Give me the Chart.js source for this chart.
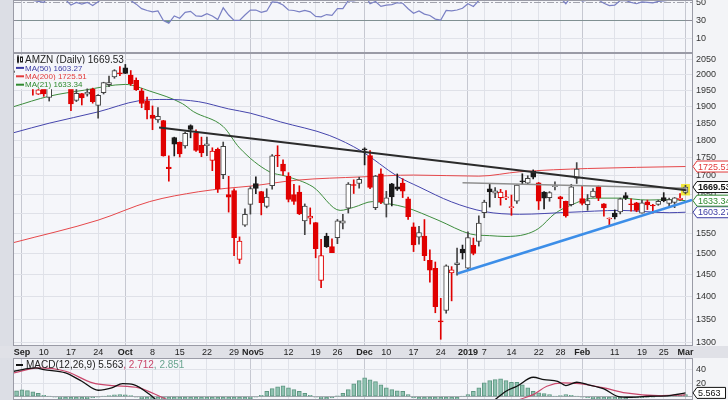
<!DOCTYPE html>
<html lang="en">
<head>
  <meta charset="UTF-8">
  <title>AMZN Daily</title>
  <script src="https://cdn.jsdelivr.net/npm/chart.js"></script>
  <style>
    body { margin: 0; background: #dcdee5; }
    #wrap { position: relative; width: 728px; height: 400px; overflow: hidden; }
    #wrap canvas { position: absolute; left: 0; }
  </style>
</head>
<body>
  <div id="wrap">
    <canvas id="rsi" width="728" height="53" style="top:0"></canvas>
    <canvas id="price" width="728" height="305" style="top:53px"></canvas>
    <canvas id="macd" width="728" height="42" style="top:358px"></canvas>
  </div>
  <script>
    const FONT = '"Liberation Sans", Arial, sans-serif';

    // date axis: trading-day index (0 = Sep 4 2018)
    const tickIdx = [0, 4, 9, 14, 19, 24, 29, 34, 39, 42, 44, 49, 54, 58, 63, 67, 72, 77, 82, 85, 90, 95, 99, 103, 109, 114, 118, 122];
    const tickLabels = ['Sep', '10', '17', '24', 'Oct', '8', '15', '22', '29', 'Nov', '5', '12', '19', '26', 'Dec', '10', '17', '24', '2019', '7', '14', '22', '28', 'Feb', '11', '19', '25', 'Mar'];
    const monthLabels = ['Sep', 'Oct', 'Nov', 'Dec', '2019', 'Feb', 'Mar'];

    // daily OHLC, Aug 31 2018 .. Mar 1 2019
    const open = [
      2007.0, 2026.5, 2038.1, 2006.5, 1938.7, 1971.0, 1928.3, 1994.0, 2000.0, 1992.9,
      1954.7, 1918.7, 1940.5, 1938.6, 1954.2, 1903.8, 1942.9, 1968.5, 1993.2, 2004.4,
      2022.0, 1999.0, 1981.7, 1949.0, 1918.0, 1874.0, 1860.0, 1857.9, 1724.0, 1808.0,
      1795.0, 1783.5, 1842.8, 1821.5, 1785.0, 1784.0, 1742.2, 1773.7, 1703.3, 1649.6,
      1660.0, 1486.2, 1570.0, 1623.5, 1678.6, 1657.6, 1618.4, 1673.0, 1755.0, 1732.5,
      1698.2, 1649.3, 1656.3, 1581.0, 1587.8, 1577.0, 1437.0, 1543.0, 1517.0, 1539.0,
      1575.0, 1613.9, 1675.0, 1679.5, 1774.0, 1756.0, 1614.9, 1705.1, 1623.8, 1678.0,
      1670.1, 1680.0, 1638.0, 1566.0, 1540.0, 1543.1, 1484.0, 1465.0, 1346.0, 1368.9,
      1454.2, 1473.4, 1510.8, 1465.2, 1520.0, 1530.0, 1602.3, 1664.7, 1653.0, 1641.0,
      1640.6, 1615.0, 1632.0, 1684.2, 1680.0, 1712.0, 1681.0, 1656.0, 1641.1, 1670.5,
      1643.6, 1631.3, 1623.0, 1692.9, 1638.9, 1623.0, 1643.3, 1670.8, 1625.0, 1586.0,
      1601.0, 1604.0, 1647.0, 1624.5, 1627.9, 1601.0, 1630.0, 1619.8, 1623.5, 1641.5,
      1626.0, 1628.8, 1635.9, 1655.0
    ];
    const high = [
      2022.4, 2050.5, 2040.4, 2007.5, 1975.2, 1973.0, 1988.9, 1997.6, 2008.8, 1993.7,
      1956.8, 1958.2, 1940.8, 1955.0, 1957.3, 1936.9, 1975.9, 1995.3, 2016.2, 2026.5,
      2033.2, 2013.4, 1989.7, 1956.0, 1929.1, 1902.0, 1896.7, 1858.6, 1755.4, 1808.9,
      1795.0, 1823.9, 1845.2, 1830.2, 1809.1, 1809.5, 1778.3, 1777.7, 1794.8, 1698.5,
      1665.0, 1541.0, 1612.0, 1670.5, 1697.4, 1658.1, 1665.0, 1759.2, 1784.0, 1743.9,
      1708.6, 1677.1, 1673.0, 1624.8, 1614.5, 1577.0, 1534.8, 1550.0, 1536.2, 1584.8,
      1597.7, 1681.5, 1689.0, 1696.0, 1778.3, 1770.3, 1701.0, 1718.9, 1658.0, 1679.5,
      1705.0, 1692.1, 1642.6, 1576.1, 1567.6, 1584.5, 1509.5, 1480.0, 1396.0, 1473.2,
      1469.0, 1513.5, 1520.8, 1553.4, 1538.0, 1594.0, 1634.6, 1676.6, 1667.8, 1663.3,
      1660.3, 1648.2, 1675.2, 1705.5, 1700.2, 1716.2, 1681.9, 1657.4, 1657.3, 1683.5,
      1645.0, 1632.4, 1676.9, 1736.4, 1673.1, 1649.6, 1665.3, 1672.3, 1625.5, 1588.6,
      1609.3, 1640.0, 1654.6, 1637.9, 1628.9, 1634.0, 1634.9, 1623.6, 1634.9, 1654.6,
      1640.0, 1641.8, 1651.8, 1674.3
    ];
    const low = [
      2004.7, 2013.0, 1989.9, 1935.6, 1937.4, 1931.5, 1917.0, 1968.1, 1983.0, 1959.2,
      1887.4, 1915.4, 1904.9, 1932.3, 1910.5, 1865.0, 1938.9, 1961.5, 1988.6, 1996.5,
      2003.6, 1965.8, 1949.8, 1896.6, 1862.8, 1830.7, 1852.3, 1754.4, 1685.1, 1755.0,
      1752.0, 1777.4, 1807.0, 1767.9, 1753.0, 1756.0, 1714.0, 1655.0, 1692.0, 1603.6,
      1495.0, 1476.4, 1567.3, 1598.4, 1651.8, 1596.4, 1614.6, 1664.1, 1725.1, 1701.9,
      1630.0, 1623.4, 1597.1, 1546.5, 1573.1, 1490.0, 1420.0, 1515.0, 1502.5, 1524.2,
      1561.0, 1601.2, 1652.3, 1666.5, 1730.0, 1665.0, 1609.9, 1625.7, 1590.9, 1619.6,
      1660.3, 1641.5, 1585.0, 1505.0, 1523.0, 1483.2, 1432.7, 1364.0, 1307.0, 1363.0,
      1390.3, 1449.0, 1487.0, 1460.9, 1497.1, 1518.3, 1589.2, 1616.6, 1641.4, 1621.6,
      1636.2, 1595.2, 1626.0, 1675.9, 1677.5, 1691.5, 1610.2, 1612.0, 1631.8, 1661.6,
      1614.1, 1590.7, 1619.4, 1679.1, 1622.5, 1608.2, 1642.5, 1633.3, 1592.9, 1566.8,
      1586.0, 1598.9, 1636.1, 1606.1, 1604.5, 1600.6, 1610.1, 1600.9, 1621.2, 1630.4,
      1616.1, 1615.1, 1633.8, 1651.0
    ];
    const close = [
      2012.7, 2039.5, 1994.8, 1958.3, 1952.1, 1939.0, 1987.2, 1990.0, 1989.9, 1970.2,
      1908.0, 1941.1, 1926.4, 1944.3, 1915.0, 1934.4, 1974.6, 1974.9, 2013.0, 2003.0,
      2004.4, 1971.3, 1952.8, 1909.4, 1889.7, 1864.4, 1870.3, 1755.3, 1719.4, 1788.6,
      1761.0, 1820.0, 1831.7, 1770.7, 1764.0, 1789.3, 1768.7, 1664.2, 1782.2, 1642.8,
      1538.9, 1530.4, 1598.0, 1665.5, 1666.0, 1627.8, 1642.8, 1755.5, 1754.9, 1712.4,
      1636.9, 1631.2, 1599.0, 1619.4, 1593.4, 1512.3, 1495.5, 1516.7, 1502.1, 1581.3,
      1581.4, 1677.8, 1673.6, 1690.2, 1772.4, 1668.4, 1699.2, 1629.1, 1641.0, 1643.2,
      1663.5, 1658.4, 1591.9, 1520.9, 1551.5, 1495.1, 1460.8, 1377.5, 1344.0, 1470.9,
      1461.6, 1478.0, 1502.0, 1539.1, 1500.3, 1575.4, 1629.5, 1656.6, 1659.4, 1656.2,
      1640.6, 1617.2, 1674.6, 1683.8, 1693.2, 1696.2, 1632.2, 1640.0, 1654.9, 1670.6,
      1637.9, 1593.9, 1670.4, 1718.7, 1626.2, 1633.3, 1658.8, 1640.3, 1614.4, 1588.2,
      1591.0, 1638.0, 1640.0, 1622.7, 1608.0, 1627.6, 1622.1, 1619.4, 1631.6, 1633.0,
      1636.4, 1641.1, 1639.8, 1669.53
    ];

    // moving averages (day index, value)
    const ma50Idx = [-1.5, 5, 14, 21.5, 26.5, 32.5, 38, 42, 47.5, 56.5, 62.5, 69, 73, 79, 85, 91.5, 100.5, 110, 119, 122];
    const ma50 = [1822, 1850, 1884, 1918, 1922, 1915, 1893, 1880, 1854, 1814, 1768, 1699, 1670, 1630, 1605, 1598, 1603, 1608, 1602, 1603.27];
    const ma200Idx = [-1.5, 14, 23.5, 32.5, 37.5, 42, 50.5, 62.5, 72, 84, 91.5, 104, 122];
    const ma200 = [1527, 1583, 1631, 1657, 1666, 1672, 1688, 1697, 1702, 1699, 1711, 1720, 1725.51];
    const ma21Idx = [-1.5, 5, 11.5, 19, 23.5, 29.5, 31.5, 37, 40, 45.5, 48.5, 53.5, 58.5, 61, 64.5, 67.5, 70.5, 76.5, 82.5, 86, 89, 92.5, 95, 98, 101, 105, 110, 115, 119, 122];
    const ma21 = [1900, 1932, 1951, 1969, 1948, 1909, 1885, 1840, 1778, 1711, 1699, 1670, 1608, 1616, 1631, 1625, 1616, 1583, 1548, 1544, 1542, 1547, 1562, 1600, 1622, 1640, 1640, 1635, 1636, 1633.34];

    // drawn trend lines (day index, price)
    const resistIdx = [25.2, 122.2], resistVal = [1837, 1661];
    const flatIdx = [81, 122.2], flatVal = [1681, 1666];
    const supportIdx = [80.1, 123.2], supportVal = [1453, 1635];

    const priceTicks = [1300, 1350, 1400, 1450, 1500, 1550, 1600, 1650, 1700, 1750, 1800, 1850, 1900, 1950, 2000, 2050];

    // RSI(14), daily
    const rsi = [
      60, 63, 55, 52, 51, 50, 57, 57.5, 57, 53,
      47, 50, 48, 50, 46.5, 50.7, 55.5, 55.5, 59, 57.5,
      57.5, 52, 48, 43, 41, 39.5, 40.5, 30, 27, 35,
      32.5, 39, 40, 35, 34.5, 37.5, 35, 31, 44, 36,
      30, 30, 36, 41.5, 41.5, 39, 40.5, 50.5, 50, 47,
      41.5, 41, 39.5, 41, 39.5, 34.5, 34, 36.5, 35.5, 43,
      43, 52, 51.5, 53, 59, 48.5, 51, 45.5, 47, 47.5,
      49.5, 49, 43, 38, 40.5, 37, 35.5, 31.5, 30.5, 41,
      40.5, 41.5, 43.5, 48.5, 45.5, 52, 56, 58, 58.5, 58,
      56, 55, 58.5, 59.5, 60, 60.5, 55, 56, 57, 58.5,
      55, 48.5, 56.5, 60, 51.5, 52.5, 55, 52.5, 49, 46.5,
      47, 52, 52, 50, 48.5, 50.5, 50, 49.5, 51, 51.5,
      52.5, 53, 52.5, 56
    ];
    const rsiTicks = [10, 30, 50];

    // MACD(12,26,9)
    const macdIdx = [-1.5, 2.5, 4, 8, 11, 14, 16.5, 18.5, 20.5, 23.5, 26, 30, 40, 50, 60, 70, 78, 84, 87, 89, 91, 94, 96, 98.5, 100, 102, 104, 107, 109.5, 112, 115.5, 119, 122];
    const macdVal = [38, 43, 40.5, 35.5, 23, 9.5, 13, 19.5, 18, 3, -15, -40, -60, -45, -35, -30, -55, -25, -4.5, 8, 15.5, 29, 25.5, 23, 16.5, 21.5, 18, 11.5, 0.5, -1, 0.5, 1.5, 5.563];
    const signalIdx = [-1.5, 3, 8, 13, 16.5, 21.5, 26, 35, 50, 70, 85, 91.5, 94, 96.5, 99.5, 102.5, 107, 111, 117, 122];
    const signalVal = [35.5, 43, 38, 20.5, 16.5, 13, -2, -30, -35, -30, -30, -4.5, 3, 15.5, 20.5, 19.5, 13, 5.5, 1.5, 2.712];
    const hist = [
      8.5, 10, 9, 7, 5, 2, 0.5, -1, -3, -5,
      -6, -5, -4, -3, -2, -1, 0.5, 1.5, 2.5, 3,
      2.5, 1.5, -1, -3, -5, -7, -8, -12, -14, -13,
      -12, -10, -8, -7, -6, -5, -6, -6, -5, -7,
      -9, -8, -6, -3, -1, 2, 8, 12, 14.5, 16,
      13, 10.5, 8, 5, 2, -1, -3, -4, -2, 1,
      5, 10.5, 19, 24, 28, 25, 22.5, 17.5, 13, 10.5,
      8.5, 8, 3, -2, -5, -8, -11, -13, -15, -12,
      -9, -5, 0.5, 3, 8, 13, 20.5, 24, 25.5, 26.5,
      24, 21.5, 21.5, 17.5, 13, 8, 5.5, 4.5, 3, 0.5,
      1.5, 3, 2, 0.5, -1, -2, -3, -4, -5, -5,
      -6, -4, -3, -2, -2, -1.5, -1, -0.5, 0.5, 1,
      1, 1.5, 2, 2.851
    ];
    const macdTicks = [0, 20, 40];

    const X_MIN = -1.47, X_MAX = 123.2;
    const dayX = close.map((c, i) => i - 1);
    const pts = (xs, ys) => xs.map((x, i) => ({ x: x, y: ys[i] }));
    const last = a => a[a.length - 1];

    // candle colours: red when close < previous close, hollow when close >= open
    const RED = '#e00000', DARK = '#1a1a1a';
    const bodyFill = [], bodyEdge = [];
    close.forEach((c, i) => {
      const prev = i ? close[i - 1] : open[i];
      const down = c < prev;
      const hollow = c >= open[i];
      bodyFill.push(hollow ? '#ffffff' : (down ? RED : DARK));
      bodyEdge.push(down ? RED : (hollow ? '#444444' : DARK));
    });

    function dateAxis(showLabels) {
      const isMonth = i => monthLabels.includes(tickLabels[i]);
      return {
        type: 'linear', min: X_MIN, max: X_MAX, bounds: 'data', offset: false,
        afterBuildTicks: s => { s.ticks = tickIdx.map(v => ({ value: v })); },
        afterFit: s => { s.height = showLabels ? 12 : 0; s.paddingLeft = 0; s.paddingRight = 0; },
        grid: { offset: false, color: c => isMonth(c.index) ? '#c6c8d1' : '#e0e2e9', drawTicks: false },
        border: { display: false },
        ticks: {
          display: showLabels, autoSkip: false, maxRotation: 0, padding: 1, color: '#222',
          callback: (v, i) => tickLabels[i],
          font: c => ({ family: FONT, size: 9, weight: isMonth(c.index) ? 'bold' : 'normal' })
        }
      };
    }

    function valueAxis(min, max, ticks, extra) {
      return Object.assign({
        min: min, max: max, position: 'right', bounds: 'data',
        afterBuildTicks: s => { s.ticks = ticks.map(v => ({ value: v })); },
        afterFit: s => { s.width = 36; s.paddingTop = 0; s.paddingBottom = 0; },
        ticks: { autoSkip: false, padding: 4, color: '#333', font: { family: FONT, size: 9 }, callback: v => String(v) },
        grid: { color: '#dfe1e8', drawTicks: false },
        border: { display: false }
      }, extra);
    }

    const panelBg = {
      id: 'panelBg',
      beforeDraw(chart) {
        const { ctx, chartArea: a, width, height } = chart;
        ctx.save();
        ctx.fillStyle = '#dcdee5';
        ctx.fillRect(0, 0, width, height);
        ctx.fillStyle = '#f3f4f7';
        ctx.fillRect(a.right, a.top, width - a.right, a.bottom - a.top);
        ctx.fillStyle = '#f5f6fa';
        ctx.fillRect(a.left, a.top, a.right - a.left, a.bottom - a.top);
        ctx.restore();
      },
      afterDatasetsDraw(chart) {
        const { ctx, chartArea: a } = chart;
        ctx.save();
        ctx.strokeStyle = '#9a9ba6';
        ctx.lineWidth = 1;
        ctx.strokeRect(a.left - 0.5, a.top + 0.5, a.right - a.left + 1, a.bottom - a.top - 1);
        ctx.restore();
      }
    };

    function drawTag(ctx, x, y, text, color, bold) {
      ctx.font = (bold ? 'bold ' : '') + '9px ' + FONT;
      const h = 11, w = ctx.measureText(text).width + 10;
      ctx.beginPath();
      ctx.moveTo(x, y);
      ctx.lineTo(x + 4, y - h / 2);
      ctx.lineTo(x + w, y - h / 2);
      ctx.lineTo(x + w, y + h / 2);
      ctx.lineTo(x + 4, y + h / 2);
      ctx.closePath();
      ctx.fillStyle = '#ffffff';
      ctx.fill();
      ctx.strokeStyle = color;
      ctx.lineWidth = 1;
      ctx.stroke();
      ctx.fillStyle = color;
      ctx.textAlign = 'left';
      ctx.textBaseline = 'middle';
      ctx.fillText(text, x + 5, y + 0.5);
    }

    const priceDecor = {
      id: 'priceDecor',
      beforeDraw(chart) {
        const { ctx, chartArea: a, width, height } = chart;
        ctx.save();
        ctx.fillStyle = '#e0e1e7';
        ctx.fillRect(0, a.bottom, width, height - a.bottom);
        ctx.restore();
      },
      beforeDatasetsDraw(chart) {
        // yellow marker behind the latest candle
        const { ctx } = chart;
        const el = chart.getDatasetMeta(1).data[close.length - 1];
        const ys = chart.scales.y;
        const top = ys.getPixelForValue(Math.max(last(open), last(close)));
        const bot = ys.getPixelForValue(Math.min(last(open), last(close)));
        ctx.save();
        ctx.fillStyle = '#f2e93c';
        ctx.fillRect(el.x - 4.5, top - 3, 9, bot - top + 6);
        ctx.restore();
      },
      afterDatasetsDraw(chart) {
        const { ctx, chartArea: a } = chart;
        const rows = [
          { text: 'AMZN (Daily) ' + last(close).toFixed(2), color: '#222', size: 10 },
          { text: 'MA(50) ' + last(ma50).toFixed(2), color: '#3b3ba3', size: 8 },
          { text: 'MA(200) ' + last(ma200).toFixed(2), color: '#e23a3a', size: 8 },
          { text: 'MA(21) ' + last(ma21).toFixed(2), color: '#2f8a2f', size: 8 }
        ];
        ctx.save();
        rows.forEach((r, k) => {
          const y = a.top + 6.5 + k * 8.4;
          ctx.font = r.size + 'px ' + FONT;
          const tx = a.left + 11;
          const w = ctx.measureText(r.text).width;
          ctx.fillStyle = '#f5f6fa';
          ctx.fillRect(a.left + 1, y - 4.5, tx - a.left + w, 9);
          if (k === 0) {
            ctx.fillStyle = '#222';
            ctx.fillRect(a.left + 3, y - 3, 2, 6);
            ctx.fillRect(a.left + 3.5, y - 4.5, 1, 9);
            ctx.strokeStyle = '#222';
            ctx.lineWidth = 1;
            ctx.strokeRect(a.left + 6.5, y - 2.5, 2, 5);
          } else {
            ctx.strokeStyle = r.color;
            ctx.lineWidth = 2;
            ctx.beginPath();
            ctx.moveTo(a.left + 2, y);
            ctx.lineTo(a.left + 10, y);
            ctx.stroke();
          }
          ctx.fillStyle = r.color;
          ctx.textAlign = 'left';
          ctx.textBaseline = 'middle';
          ctx.fillText(r.text, tx, y + 0.5);
        });
        ctx.restore();
      },
      afterDraw(chart) {
        const { ctx, chartArea: a } = chart;
        const ys = chart.scales.y;
        ctx.save();
        drawTag(ctx, a.right + 1, ys.getPixelForValue(last(ma200)), last(ma200).toFixed(2), '#e23a3a', false);
        drawTag(ctx, a.right + 1, ys.getPixelForValue(last(ma50)), last(ma50).toFixed(2), '#3b3ba3', false);
        drawTag(ctx, a.right + 1, ys.getPixelForValue(last(ma21)), last(ma21).toFixed(2), '#2f8a2f', false);
        drawTag(ctx, a.right + 1, ys.getPixelForValue(last(close)), last(close).toFixed(2), '#111', true);
        ctx.restore();
      }
    };

    const common = {
      responsive: false,
      animation: false,
      events: [],
      layout: { padding: { left: 14, right: 0, top: 0, bottom: 0 } },
      plugins: { legend: { display: false }, tooltip: { enabled: false } }
    };

    const lineStyle = (color, width, order) => ({
      type: 'line', borderColor: color, borderWidth: width, pointRadius: 0,
      cubicInterpolationMode: 'monotone', order: order
    });

    // price panel
    new Chart(document.getElementById('price'), {
      type: 'bar',
      data: {
        datasets: [
          Object.assign({ data: dayX.map((x, i) => ({ x: x, y: [low[i], high[i]] })) },
            { type: 'bar', backgroundColor: bodyEdge, borderWidth: 0, barThickness: 1, grouped: false, order: 3 }),
          Object.assign({ data: dayX.map((x, i) => ({ x: x, y: [open[i], close[i]] })) },
            { type: 'bar', backgroundColor: bodyFill, borderColor: bodyEdge, borderWidth: 1, borderSkipped: false,
              barThickness: 5, minBarLength: 1, grouped: false, order: 2 }),
          Object.assign({ data: pts(ma200Idx, ma200) }, lineStyle('#e6484b', 1, 5)),
          Object.assign({ data: pts(ma50Idx, ma50) }, lineStyle('#4646ad', 1, 5)),
          Object.assign({ data: pts(ma21Idx, ma21) }, lineStyle('#3d8d3d', 1, 5)),
          Object.assign({ data: pts(flatIdx, flatVal) }, lineStyle('#8f8f8f', 1.5, 1)),
          Object.assign({ data: pts(resistIdx, resistVal) }, lineStyle('#2b2b2b', 2, 0)),
          Object.assign({ data: pts(supportIdx, supportVal) }, lineStyle('#3c8ee8', 2.5, 0))
        ]
      },
      options: Object.assign({}, common, {
        scales: {
          x: dateAxis(true),
          y: valueAxis(1293, 2071, priceTicks, { type: 'logarithmic' })
        }
      }),
      plugins: [panelBg, priceDecor]
    });

    // RSI panel
    const rsiGuide = {
      id: 'rsiGuide',
      beforeDatasetsDraw(chart) {
        const { ctx, chartArea: a } = chart;
        const y = Math.round(chart.scales.y.getPixelForValue(50)) + 0.5;
        ctx.save();
        ctx.strokeStyle = '#a2a3ad';
        ctx.lineWidth = 1;
        ctx.setLineDash([7, 2, 2, 2]);
        ctx.beginPath();
        ctx.moveTo(a.left, y);
        ctx.lineTo(a.right, y);
        ctx.stroke();
        ctx.restore();
      }
    };
    new Chart(document.getElementById('rsi'), {
      type: 'line',
      data: {
        datasets: [{
          data: pts(dayX, rsi), borderColor: '#7a80c4', borderWidth: 1.2, pointRadius: 0,
          fill: { target: { value: 30 }, above: 'rgba(0,0,0,0)', below: '#5d9c85' }
        }]
      },
      options: Object.assign({}, common, {
        scales: {
          x: dateAxis(false),
          y: valueAxis(-6, 52.6, rsiTicks, {
            grid: { drawTicks: false, color: c => c.tick.value === 30 ? '#8c8d97' : (c.tick.value === 50 ? 'rgba(0,0,0,0)' : '#e0e2e9') }
          })
        }
      }),
      plugins: [panelBg, rsiGuide]
    });

    // MACD panel
    const macdDecor = {
      id: 'macdDecor',
      afterDatasetsDraw(chart) {
        const { ctx, chartArea: a } = chart;
        const y = a.top + 7;
        ctx.save();
        ctx.font = '10px ' + FONT;
        ctx.textAlign = 'left';
        ctx.textBaseline = 'middle';
        ctx.strokeStyle = '#111';
        ctx.lineWidth = 2;
        ctx.beginPath();
        ctx.moveTo(a.left + 2, y);
        ctx.lineTo(a.left + 9, y);
        ctx.stroke();
        const parts = [
          ['MACD(12,26,9) ' + last(macdVal).toFixed(3), '#222'],
          [', ' + last(signalVal).toFixed(3), '#c9476b'],
          [', ' + last(hist).toFixed(3), '#6aa590']
        ];
        let x = a.left + 12;
        parts.forEach(p => {
          ctx.fillStyle = p[1];
          ctx.fillText(p[0], x, y + 0.5);
          x += ctx.measureText(p[0]).width;
        });
        ctx.restore();
      },
      afterDraw(chart) {
        const { ctx, chartArea: a } = chart;
        ctx.save();
        drawTag(ctx, a.right + 1, chart.scales.y.getPixelForValue(last(macdVal)), last(macdVal).toFixed(3), '#111', false);
        ctx.restore();
      }
    };
    new Chart(document.getElementById('macd'), {
      type: 'bar',
      data: {
        datasets: [
          Object.assign({ data: pts(macdIdx, macdVal) }, lineStyle('#111111', 1.3, 0)),
          Object.assign({ data: pts(signalIdx, signalVal) }, lineStyle('#c9476b', 1.2, 1)),
          {
            type: 'bar', data: pts(dayX, hist), backgroundColor: '#8fc2b1', borderColor: '#5f9782',
            borderWidth: 1, borderSkipped: false, barThickness: 4, grouped: false, order: 2
          }
        ]
      },
      options: Object.assign({}, common, {
        scales: {
          x: dateAxis(false),
          y: valueAxis(-5.1, 57.9, macdTicks, {
            ticks: { autoSkip: false, padding: 4, color: '#333', font: { family: FONT, size: 9 }, callback: v => v === 0 ? '' : String(v) },
            grid: { drawTicks: false, color: c => c.tick.value === 0 ? '#a9aab3' : '#e0e2e9' }
          })
        }
      }),
      plugins: [panelBg, macdDecor]
    });
  </script>
</body>
</html>
